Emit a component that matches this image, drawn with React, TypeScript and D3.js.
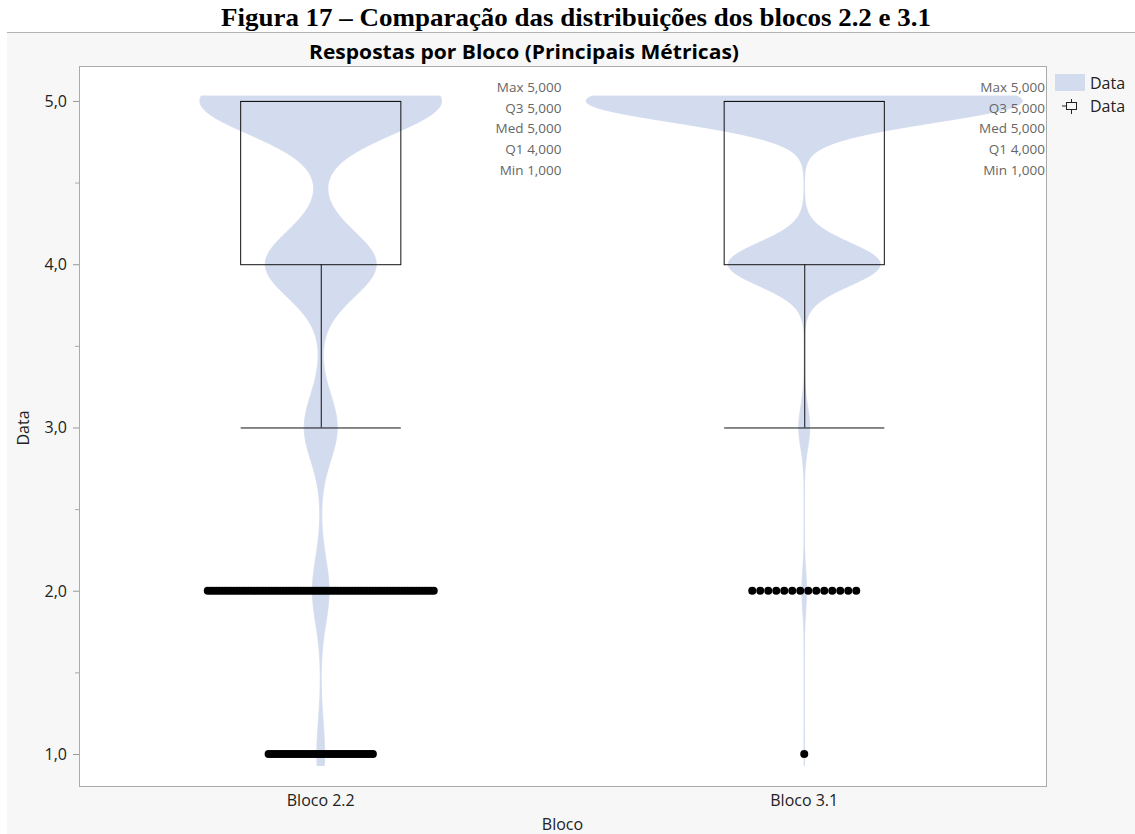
import React from "react";
import * as d3 from "d3";

// ---------- data ----------
const categories = ["Bloco 2.2", "Bloco 3.1"];
const responseLevels = [1, 2, 3, 4, 5];
const countsBloco22 = [37, 79, 157, 528, 1150];
const countsBloco31 = [1, 14, 34, 470, 1349];
const kdeBandwidths = [0.2, 0.13];
const yTickValues = [1, 2, 3, 4, 5];
const yMinorTickValues = [1.5, 2.5, 3.5, 4.5];
const statLabels = ["Max", "Q3", "Med", "Q1", "Min"];
const legendLabels = ["Data", "Data"];

const figureTitle = "Figura 17 – Comparação das distribuições dos blocos 2.2 e 3.1";
const chartTitle = "Respostas por Bloco (Principais Métricas)";
const xAxisTitle = "Bloco";
const yAxisTitle = "Data";

// ---------- layout ----------
const W = 1135;
const H = 834;
const plot = { left: 79, right: 1046, top: 66, bottom: 786 };
const VIOLIN_FILL = "#d3dcef";
const SANS = "'Open Sans', 'Noto Sans', sans-serif";
const LABEL_SIZE = 16;

const ptBR = d3.formatLocale({ decimal: ",", thousands: ".", grouping: [3], currency: ["R$", ""] });
const fmt3 = ptBR.format(".3f");
const fmt1 = ptBR.format(".1f");

function groupStats(counts: number[]) {
  const values: number[] = [];
  counts.forEach((c, i) => {
    for (let k = 0; k < c; k++) values.push(responseLevels[i]);
  });
  values.sort(d3.ascending);
  const q1 = d3.quantileSorted(values, 0.25)!;
  const med = d3.quantileSorted(values, 0.5)!;
  const q3 = d3.quantileSorted(values, 0.75)!;
  const min = values[0];
  const max = values[values.length - 1];
  const iqr = q3 - q1;
  const loFence = q1 - 1.5 * iqr;
  const hiFence = q3 + 1.5 * iqr;
  const whiskLo = d3.min(values.filter((v) => v >= loFence))!;
  const whiskHi = d3.max(values.filter((v) => v <= hiFence))!;
  const outliers = responseLevels
    .map((lv, i) => ({ level: lv, count: counts[i] }))
    .filter((d) => d.count > 0 && (d.level < loFence || d.level > hiFence));
  return { q1, med, q3, min, max, whiskLo, whiskHi, outliers };
}

export default function App() {
  const x = d3.scaleBand<string>().domain(categories).range([plot.left, plot.right]).padding(0);
  const step = x.bandwidth();
  const y = d3.scaleLinear().domain([0.804, 5.214]).range([plot.bottom, plot.top]);

  const groups = [countsBloco22, countsBloco31].map((counts, gi) => {
    const h = kdeBandwidths[gi];
    const dens = (v: number) =>
      d3.sum(counts, (c, i) => (c * Math.exp(-0.5 * ((v - responseLevels[i]) / h) ** 2)) / h);
    const stats = groupStats(counts);
    return { name: categories[gi], counts, dens, stats, h };
  });

  const maxDensity = d3.max(groups, (g) => d3.max(responseLevels, (lv) => g.dens(lv))!)!;
  const halfWidth = d3.scaleLinear().domain([0, maxDensity]).range([0, step * 0.451]);

  const boxHalf = step / 6 - 0.5;
  const dotR = 4;
  const maxDotSpan = 226;

  return (
    <svg
      width={W}
      height={H}
      style={{ position: "absolute", left: 0, top: 0, background: "#fff" }}
      fontFamily={SANS}
    >
      {/* panel background */}
      <rect x={7} y={32} width={W - 7} height={H - 32} fill="#f7f7f7" />
      <line x1={7} x2={W} y1={32.5} y2={32.5} stroke="#b4b4b4" />

      {/* figure title */}
      <text
        x={576}
        y={26}
        textAnchor="middle"
        fontFamily="'Liberation Serif', 'Times New Roman', serif"
        fontWeight="bold"
        fontSize={26}
        textLength={710}
        lengthAdjust="spacingAndGlyphs"
        fill="#000"
      >
        {figureTitle}
      </text>

      {/* chart title */}
      <text
        x={524}
        y={59}
        textAnchor="middle"
        fontWeight="bold"
        fontSize={19}
        textLength={430}
        lengthAdjust="spacingAndGlyphs"
        fill="#000"
      >
        {chartTitle}
      </text>

      {/* plot area */}
      <rect
        x={plot.left + 0.5}
        y={plot.top + 0.5}
        width={plot.right - plot.left}
        height={plot.bottom - plot.top}
        fill="#fff"
        stroke="#aaaaaa"
      />

      {/* y ticks */}
      {yTickValues.map((t) => (
        <g key={"yt" + t}>
          <line x1={plot.left - 6} x2={plot.left} y1={y(t) + 0.5} y2={y(t) + 0.5} stroke="#999" />
          <text x={plot.left - 12} y={y(t) + 6} textAnchor="end" fontSize={LABEL_SIZE} fill="#222">
            {fmt1(t)}
          </text>
        </g>
      ))}
      {yMinorTickValues.map((t) => (
        <line key={"ym" + t} x1={plot.left - 4} x2={plot.left} y1={y(t) + 0.5} y2={y(t) + 0.5} stroke="#aaa" />
      ))}

      {/* y axis title */}
      <text
        transform={`translate(29,${(plot.top + plot.bottom) / 2 + 2}) rotate(-90)`}
        textAnchor="middle"
        fontSize={LABEL_SIZE}
        fill="#222"
      >
        {yAxisTitle}
      </text>

      {/* x labels */}
      {categories.map((c) => (
        <text key={c} x={x(c)! + step / 2} y={806} textAnchor="middle" fontSize={LABEL_SIZE} fill="#222">
          {c}
        </text>
      ))}
      <text x={(plot.left + plot.right) / 2} y={830} textAnchor="middle" fontSize={LABEL_SIZE} fill="#222">
        {xAxisTitle}
      </text>

      {/* groups */}
      {groups.map((g) => {
        const cx = x(g.name)! + step / 2;
        const lo = g.stats.min - 0.07;
        const hi = g.stats.max + 0.03;
        const samples = d3.range(lo, hi + 1e-9, 0.004);
        const area = d3
          .area<number>()
          .x0((v) => cx - halfWidth(g.dens(v)))
          .x1((v) => cx + halfWidth(g.dens(v)))
          .y((v) => y(v));
        const maxOut = d3.max(g.stats.outliers, (o) => o.count) || 1;
        const spacing = Math.min(dotR * 2, maxDotSpan / Math.max(1, maxOut - 1));
        const statVals = [g.stats.max, g.stats.q3, g.stats.med, g.stats.q1, g.stats.min];
        const textRight = cx + step / 2 - 1;
        return (
          <g key={g.name}>
            <path d={area(samples)!} fill={VIOLIN_FILL} stroke={VIOLIN_FILL} strokeWidth={1} />
            {/* box */}
            <rect
              x={cx - boxHalf}
              y={y(g.stats.q3) + 0.5}
              width={boxHalf * 2}
              height={y(g.stats.q1) - y(g.stats.q3)}
              fill="none"
              stroke="#111"
              strokeWidth={1}
            />
            <line x1={cx - boxHalf} x2={cx + boxHalf} y1={y(g.stats.med) + 0.5} y2={y(g.stats.med) + 0.5} stroke="#111" />
            {/* whiskers */}
            <line x1={cx + 0.5} x2={cx + 0.5} y1={y(g.stats.q1)} y2={y(g.stats.whiskLo)} stroke="#111" />
            <line x1={cx - boxHalf} x2={cx + boxHalf} y1={y(g.stats.whiskLo) + 0.5} y2={y(g.stats.whiskLo) + 0.5} stroke="#111" />
            {g.stats.whiskHi > g.stats.q3 && (
              <>
                <line x1={cx + 0.5} x2={cx + 0.5} y1={y(g.stats.q3)} y2={y(g.stats.whiskHi)} stroke="#111" />
                <line x1={cx - boxHalf} x2={cx + boxHalf} y1={y(g.stats.whiskHi) + 0.5} y2={y(g.stats.whiskHi) + 0.5} stroke="#111" />
              </>
            )}
            {/* outlier dots */}
            {g.stats.outliers.map((o) =>
              d3.range(o.count).map((k) => (
                <circle
                  key={o.level + "-" + k}
                  cx={cx + (k - (o.count - 1) / 2) * spacing}
                  cy={y(o.level)}
                  r={dotR}
                  fill="#000"
                />
              ))
            )}
            {/* summary statistics */}
            {statLabels.map((lab, i) => (
              <g key={lab}>
                <text x={textRight - 38} y={92 + i * 20.7} textAnchor="end" fontSize={13.5} fill="#666">
                  {lab}
                </text>
                <text x={textRight} y={92 + i * 20.7} textAnchor="end" fontSize={13.5} fill="#666">
                  {fmt3(statVals[i])}
                </text>
              </g>
            ))}
          </g>
        );
      })}

      {/* legend */}
      <rect x={1055} y={74} width={30} height={17} fill={VIOLIN_FILL} />
      <text x={1090} y={89} fontSize={LABEL_SIZE} fill="#222">
        {legendLabels[0]}
      </text>
      <g stroke="#222" fill="none">
        <line x1={1071.5} x2={1071.5} y1={99} y2={114} />
        <rect x={1066.5} y={102.5} width={10} height={7} fill="#f7f7f7" />
        <line x1={1062} x2={1066.5} y1={106} y2={106} />
      </g>
      <text x={1090} y={112} fontSize={LABEL_SIZE} fill="#222">
        {legendLabels[1]}
      </text>
    </svg>
  );
}
